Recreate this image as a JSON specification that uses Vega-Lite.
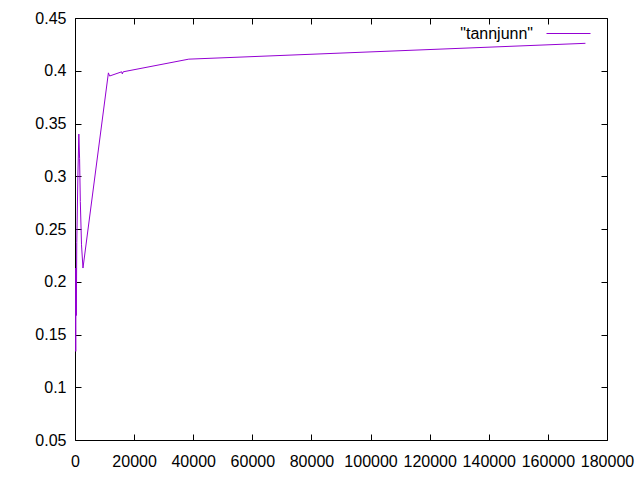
{
  "$schema": "https://vega.github.io/schema/vega-lite/v6.json",
  "autosize": {"type": "none"},
  "padding": {"left": 75, "top": 18, "right": 33, "bottom": 40},
  "width": 532,
  "height": 422,
  "background": "white",
  "config": {
    "font": "Liberation Sans",
    "view": {"stroke": "black", "strokeWidth": 1},
    "axis": {"grid": false, "domain": false, "tickColor": "black", "tickSize": -6, "labelFont": "Liberation Sans", "labelFontSize": 16, "labelColor": "black", "title": null}
  },
  "data": {"values": [
    {"x": 100, "y": 0.213, "s": "\"tannjunn\""},
    {"x": 250, "y": 0.134, "s": "\"tannjunn\""},
    {"x": 330, "y": 0.213, "s": "\"tannjunn\""},
    {"x": 450, "y": 0.168, "s": "\"tannjunn\""},
    {"x": 600, "y": 0.237, "s": "\"tannjunn\""},
    {"x": 1000, "y": 0.304, "s": "\"tannjunn\""},
    {"x": 1300, "y": 0.340, "s": "\"tannjunn\""},
    {"x": 1550, "y": 0.317, "s": "\"tannjunn\""},
    {"x": 1800, "y": 0.276, "s": "\"tannjunn\""},
    {"x": 2200, "y": 0.235, "s": "\"tannjunn\""},
    {"x": 2700, "y": 0.213, "s": "\"tannjunn\""},
    {"x": 11300, "y": 0.398, "s": "\"tannjunn\""},
    {"x": 11700, "y": 0.395, "s": "\"tannjunn\""},
    {"x": 15800, "y": 0.399, "s": "\"tannjunn\""},
    {"x": 16000, "y": 0.397, "s": "\"tannjunn\""},
    {"x": 16300, "y": 0.399, "s": "\"tannjunn\""},
    {"x": 38500, "y": 0.411, "s": "\"tannjunn\""},
    {"x": 172700, "y": 0.426, "s": "\"tannjunn\""}
  ]},
  "layer": [
    {
      "mark": {"type": "line", "strokeWidth": 1, "clip": true},
      "encoding": {
        "x": {"field": "x", "type": "quantitative", "scale": {"domain": [0, 180000], "nice": false, "zero": false}, "axis": {"values": [0,20000,40000,60000,80000,100000,120000,140000,160000,180000], "format": "d", "labelPadding": 19, "labelFlush": false}},
        "y": {"field": "y", "type": "quantitative", "scale": {"domain": [0.05, 0.45], "nice": false, "zero": false}, "axis": {"values": [0.05,0.1,0.15,0.2,0.25,0.3,0.35,0.4,0.45], "format": "~g", "labelPadding": 15, "labelFlush": false}},
        "color": {"field": "s", "type": "nominal", "scale": {"range": ["#9400d3"]}, "legend": {"title": null, "orient": "none", "legendX": 471, "legendY": -7, "symbolType": "stroke", "symbolSize": 1936, "symbolStrokeWidth": 1, "labelAlign": "right", "labelOffset": -58, "labelFontSize": 16, "labelFont": "Liberation Sans", "labelColor": "black", "padding": 0}}
      }
    },
    {
      "mark": {"type": "line", "opacity": 0},
      "encoding": {
        "x": {"field": "x", "type": "quantitative", "axis": {"orient": "top", "labels": false, "values": [0,20000,40000,60000,80000,100000,120000,140000,160000,180000]}},
        "y": {"field": "y", "type": "quantitative", "axis": {"orient": "right", "labels": false, "values": [0.05,0.1,0.15,0.2,0.25,0.3,0.35,0.4,0.45]}}
      }
    }
  ],
  "resolve": {"axis": {"x": "independent", "y": "independent"}}
}
